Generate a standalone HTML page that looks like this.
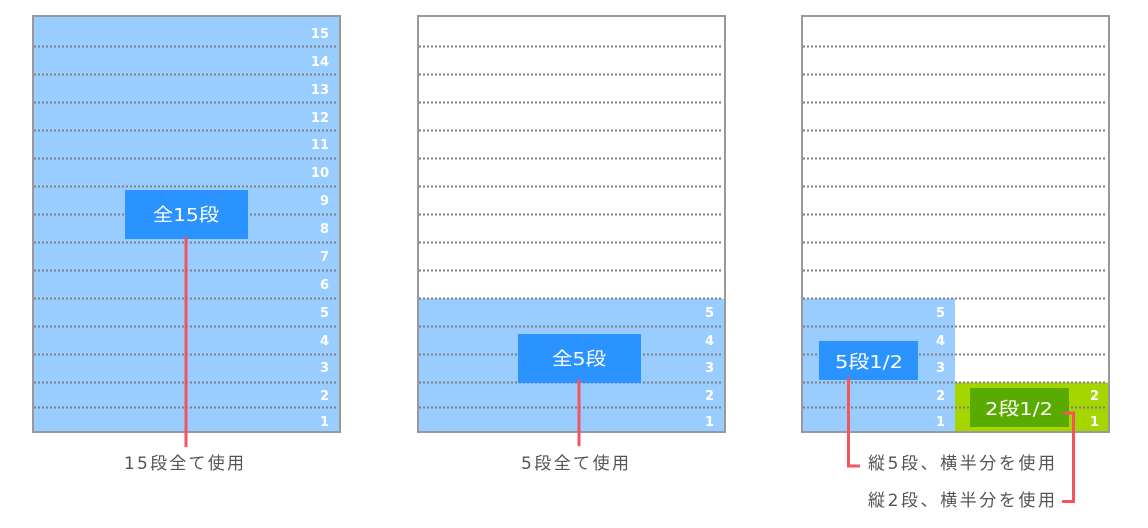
<!DOCTYPE html>
<html><head><meta charset="utf-8"><style>
html,body{margin:0;padding:0;background:#fff;width:1148px;height:528px;overflow:hidden}
svg{display:block}
.n{font:bold 13px "DejaVu Sans","Liberation Sans",sans-serif;fill:#fff;text-anchor:end}
.b{font:18px "DejaVu Sans","Noto Sans CJK JP",sans-serif;fill:#fff;text-anchor:middle}
.c{font:17px "DejaVu Sans","Noto Sans CJK JP",sans-serif;fill:#555}
</style></head><body>
<svg width="1148" height="528" xmlns="http://www.w3.org/2000/svg">
<defs>
<g id="L" stroke="#808080" stroke-width="2" stroke-dasharray="2,2">
<line x1="0" y1="46.5" x2="304" y2="46.5"/><line x1="0" y1="74.5" x2="304" y2="74.5"/>
<line x1="0" y1="102.5" x2="304" y2="102.5"/><line x1="0" y1="130.5" x2="304" y2="130.5"/>
<line x1="0" y1="158.5" x2="304" y2="158.5"/><line x1="0" y1="186.5" x2="304" y2="186.5"/>
<line x1="0" y1="214.5" x2="304" y2="214.5"/><line x1="0" y1="242.5" x2="304" y2="242.5"/>
<line x1="0" y1="270.5" x2="304" y2="270.5"/><line x1="0" y1="298.5" x2="304" y2="298.5"/>
<line x1="0" y1="326.5" x2="304" y2="326.5"/><line x1="0" y1="354.5" x2="304" y2="354.5"/>
<line x1="0" y1="382.5" x2="304" y2="382.5"/><line x1="0" y1="407.5" x2="304" y2="407.5"/>
</g>
</defs>
<!-- panel 1 -->
<rect x="33" y="16" width="307" height="416" fill="#99ccff" stroke="#999" stroke-width="2"/>
<use href="#L" x="34"/>
<g class="n">
<text x="329" y="38">15</text><text x="329" y="66">14</text><text x="329" y="94">13</text>
<text x="329" y="122">12</text><text x="329" y="149">11</text><text x="329" y="177">10</text>
<text x="329" y="205">9</text><text x="329" y="233">8</text><text x="329" y="261">7</text>
<text x="329" y="289">6</text><text x="329" y="317">5</text><text x="329" y="345">4</text>
<text x="329" y="372">3</text><text x="329" y="400">2</text><text x="329" y="426">1</text>
</g>
<rect x="125" y="190" width="123" height="49" fill="#2a93ff"/>
<text class="b" x="186" y="221" textLength="66" lengthAdjust="spacingAndGlyphs">全15段</text>
<line x1="186" y1="237" x2="186" y2="447" stroke="#f5545c" stroke-width="3"/>
<text class="c" x="184" y="469" text-anchor="middle" textLength="120" lengthAdjust="spacing">15段全て使用</text>

<!-- panel 2 -->
<rect x="418" y="16" width="307" height="416" fill="#fff" stroke="#999" stroke-width="2"/>
<rect x="419" y="298.5" width="305" height="132.5" fill="#99ccff"/>
<use href="#L" x="419"/>
<g class="n">
<text x="714" y="317">5</text><text x="714" y="345">4</text><text x="714" y="372">3</text>
<text x="714" y="400">2</text><text x="714" y="426">1</text>
</g>
<rect x="518" y="334" width="123" height="49" fill="#2a93ff"/>
<text class="b" x="579" y="365" textLength="54" lengthAdjust="spacingAndGlyphs">全5段</text>
<line x1="579" y1="379" x2="579" y2="446" stroke="#f5545c" stroke-width="3"/>
<text class="c" x="575" y="469" text-anchor="middle" textLength="108" lengthAdjust="spacing">5段全て使用</text>

<!-- panel 3 -->
<rect x="802" y="16" width="307" height="416" fill="#fff" stroke="#999" stroke-width="2"/>
<rect x="803" y="298.5" width="152" height="132.5" fill="#99ccff"/>
<rect x="955" y="382.5" width="153" height="48.5" fill="#a5d600"/>
<use href="#L" x="803"/>
<g class="n">
<text x="945" y="317">5</text><text x="945" y="345">4</text><text x="945" y="372">3</text>
<text x="945" y="400">2</text><text x="945" y="426">1</text>
<text x="1099" y="400">2</text><text x="1099" y="426">1</text>
</g>
<rect x="819" y="341" width="99" height="39" fill="#2a93ff"/>
<text class="b" x="869" y="368" textLength="68" lengthAdjust="spacingAndGlyphs">5段1/2</text>
<rect x="970" y="388" width="99" height="39" fill="#5aab00"/>
<text class="b" x="1019" y="415" textLength="68" lengthAdjust="spacingAndGlyphs">2段1/2</text>
<polyline points="848.5,377 848.5,466 860,466" fill="none" stroke="#f5545c" stroke-width="3"/>
<polyline points="1063,413 1073.5,413 1073.5,501.5 1062,501.5" fill="none" stroke="#f5545c" stroke-width="3"/>
<text class="c" x="868" y="469" textLength="187" lengthAdjust="spacing">縦5段、横半分を使用</text>
<text class="c" x="868" y="506" textLength="187" lengthAdjust="spacing">縦2段、横半分を使用</text>
</svg>
</body></html>
